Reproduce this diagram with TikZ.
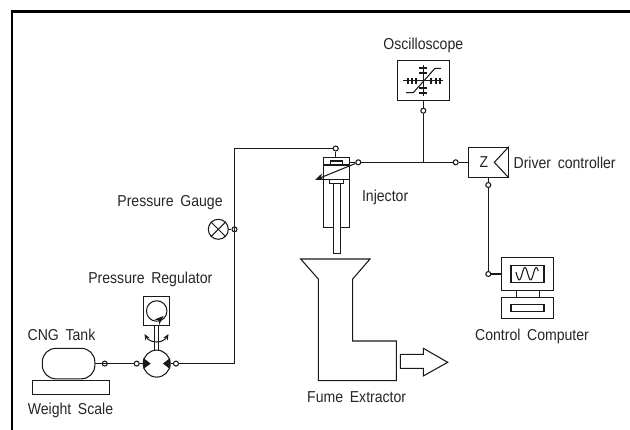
\documentclass[tikz,border=0pt]{standalone}
\usepackage{fontspec}
\setmainfont[WordSpace=1.7, FakeStretch=0.89]{Liberation Sans}
\usetikzlibrary{arrows.meta}
\tikzset{
    line/.style={line width=0.6pt, black!90},
    port/.style={draw, line width=0.6pt, black!90, circle, inner sep=0pt, minimum size=0.1cm},
    device/.style={draw, line width=0.6pt, black!90, rectangle, inner sep=0pt},
    lbl/.style={font=\fontsize{9}{10}\selectfont, text=black!85, inner sep=0pt},
    tip/.style={-{Stealth[length=0.18cm, width=0.14cm]}}
}

\begin{document}
\begin{tikzpicture}[x=0.02cm, y=-0.02cm]
    \useasboundingbox (0,0) rectangle (630,430);
    % frame
    \coordinate (frameBL) at (12,430);
    \coordinate (frameTL) at (12,11.5);
    \coordinate (frameTR) at (630,11.5);
    \draw[line width=1.7pt] (frameBL) -- (frameTL) -- (frameTR);

    % tank, scale, regulator
    \node[device, rounded corners=0.27cm, minimum width=1.05cm, minimum height=0.61cm] (tank) at (68.6,363.6) {};
    \node[device, minimum width=1.53cm, minimum height=0.28cm] (scale) at (70.8,387.3) {};
    \node[device, circle, minimum width=0.54cm, minimum height=0.54cm] (valve) at (156.7,363.6) {};
    \node[device, minimum width=0.52cm, minimum height=0.59cm] (regbox) at (156.7,311) {};
    \node[device, circle, minimum size=0.41cm] (regdial) at (156.7,311) {};
    \node[port] (tankport) at (104.7,363.6) {};
    \node[port] (valvein) at (136.7,363.6) {};
    \node[port] (valveout) at (176,363.6) {};
    \draw[line] (tank) -- (valvein) -- (valve);
    \draw[line] ([xshift=-0.035cm]regbox.south) -- ([xshift=-0.035cm]valve.north);
    \draw[line] ([xshift=0.035cm]regbox.south) -- ([xshift=0.035cm]valve.north);
    \fill[black!90] (143.3,358) -- (150.7,363.6) -- (143.3,369) -- cycle;
    \fill[black!90] (170,358) -- (163,363.6) -- (170,369) -- cycle;
    \draw[line, {Stealth[length=0.12cm, width=0.1cm]}-{Stealth[length=0.12cm, width=0.1cm]}] (144.5,334) .. controls (148,340) and (152,342) .. (156.7,342) .. controls (161,342) and (165,340) .. (168.5,334);
    \draw[line, tip] (158.5,320.6) -- (163.5,316);

    % gauge
    \node[device, circle, minimum size=0.4cm] (gauge) at (218.3,229.3) {};
    \draw[line] (gauge.45) -- (gauge.225);
    \draw[line] (gauge.135) -- (gauge.315);
    \node[port] (gaugeport) at (234.5,229.3) {};
    \draw[line] (gauge) -- (gaugeport);

    % injector
    \node[device, minimum width=0.53cm, minimum height=1.4cm] (injector) at (336.5,192.3) {};
    \node[device, fill=white, minimum width=0.14cm, minimum height=1.4cm] (needle) at (336.8,218.3) {};
    \node[device, minimum width=0.25cm, minimum height=0.08cm] (coiltop) at (336.3,163) {};
    \node[device, fill=white, minimum width=0.27cm, minimum height=0.08cm] (coilbot) at (336.6,181.3) {};
    \coordinate (bandAL) at (323.3,165);
    \coordinate (bandAR) at (349.7,165);
    \coordinate (bandBL) at (323.3,179.3);
    \coordinate (bandBR) at (349.7,179.3);
    \draw[line] (bandAL) -- (bandAR);
    \draw[line] (bandBL) -- (bandBR);
    \node[port] (injtop) at (335.7,148.5) {};
    \node[port] (injright) at (358.3,162.3) {};
    \coordinate (injtip) at (315,180);
    \draw[line] (injtop) -- (injector.north -| injtop);
    \draw[line] (injector.east |- injright) -- (injright);
    \draw[line, tip] (injright) -- (injtip);

    % gas pipe
    \coordinate (pipeA) at (234.5,148.5);
    \coordinate (pipeB) at (234.5,363.6);
    \draw[line] (injtop) -- (pipeA) -- (pipeB) -- (valveout) -- (valve);

    % oscilloscope
    \node[device, minimum width=1.04cm, minimum height=0.8cm] (scope) at (423.3,80.7) {};
    \node[port] (scopeport) at (423.3,110.7) {};
    \coordinate (tee) at (423.3,162.3);
    \draw[line] (scope) -- (scopeport) -- (tee);
    \draw[line] (403.3,80.7) -- (443.3,80.7);
    \draw[line] (423.3,65) -- (423.3,96);
    \foreach \t in {408,412,416,431,436,440}
        \draw[line] (\t,77.7) -- (\t,83.7);
    \foreach \t in {68,73,88,93}
        \draw[line] (419.3,\t) -- (427.3,\t);
    \draw[line] (406,92.7) -- (413.3,92.7) -- (435,68.3) -- (441,68.3);

    % driver
    \node[device, minimum width=0.8cm, minimum height=0.6cm] (driver) at (488.3,162.3) {};
    \node[lbl] (driverz) at (484,162.3) {Z};
    \coordinate (chevA) at (driver.north east);
    \coordinate (chevB) at (494.3,162.3);
    \coordinate (chevC) at (driver.south east);
    \draw[line] (chevA) -- (chevB) -- (chevC);
    \node[port] (driverin) at (455.7,162.3) {};
    \node[port] (driverout) at (488.3,185) {};
    \draw[line] (injright) -- (tee) -- (driverin) -- (driver);
    \draw[line] (driver) -- (driverout);

    % computer
    \node[device, minimum width=1.05cm, minimum height=0.65cm] (monitor) at (527.5,274) {};
    \node[device, minimum width=0.66cm, minimum height=0.35cm] (screen) at (527.5,274) {};
    \node[device, minimum width=1.05cm, minimum height=0.43cm] (keyboard) at (527.5,308) {};
    \node[device, minimum width=0.66cm, minimum height=0.13cm] (slot) at (527.5,308.2) {};
    \node[port] (compport) at (488.3,274) {};
    \draw[line] (driverout) -- (compport) -- (monitor);
    \draw[line] ([xshift=-0.22cm]monitor.south) -- ([xshift=-0.22cm]keyboard.north);
    \draw[line] ([xshift=0.24cm]monitor.south) -- ([xshift=0.24cm]keyboard.north);
    \draw[line, domain=75:785, samples=60, smooth] plot ({516+(\x-75)/710*22.3},{273.7-6.2*cos(\x)});

    % extractor
    \draw[line] (300.7,259) -- (370,259) -- (352.7,279) -- (352.7,341) -- (396.3,341) -- (396.3,380.7) -- (318.3,380.7) -- (318.3,279) -- cycle;
    \draw[line] (400.3,354.3) -- (423.3,354.3) -- (423.3,348.3) -- (447.7,362.3) -- (423.3,376) -- (423.3,368.3) -- (400.3,368.3) -- cycle;

    % labels
    \node[lbl] (scopelbl) at (423.3,45) {Oscilloscope};
    \node[lbl, anchor=west] (driverlbl) at (513.3,163) {Driver controller};
    \node[lbl, anchor=west] (injlbl) at (361.7,197) {Injector};
    \node[lbl] (gaugelbl) at (170,202.7) {Pressure Gauge};
    \node[lbl] (reglbl) at (150.3,279.3) {Pressure Regulator};
    \node[lbl] (tanklbl) at (61.5,335) {CNG Tank};
    \node[lbl] (scalelbl) at (70.5,410) {Weight Scale};
    \node[lbl] (fumelbl) at (356.7,396.7) {Fume Extractor};
    \node[lbl] (complbl) at (532,336.7) {Control Computer};
\end{tikzpicture}
\end{document}
